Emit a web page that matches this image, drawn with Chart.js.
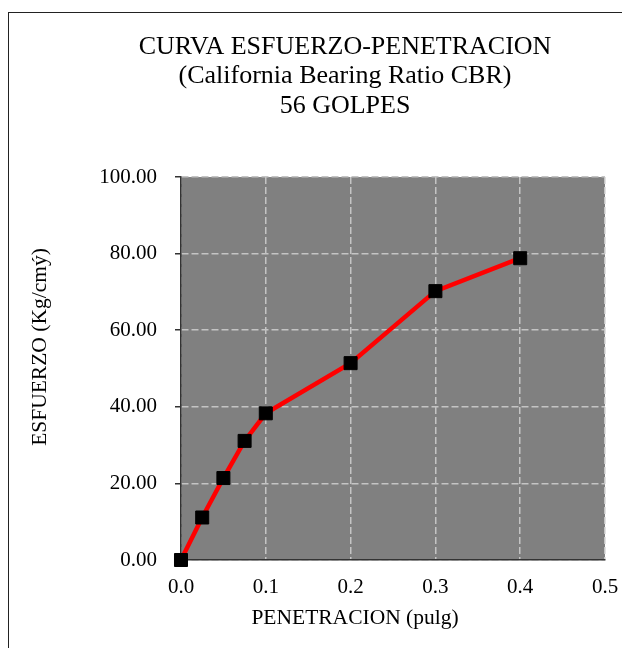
<!DOCTYPE html>
<html>
<head>
<meta charset="utf-8">
<script src="https://cdn.jsdelivr.net/npm/chart.js@4"></script>
<style>
  body { margin: 0; background: #fff; }
  canvas { display: block; }
</style>
</head>
<body>
<canvas id="cbrChart" width="622" height="648"></canvas>
<script>
const titleLines = ['CURVA ESFUERZO-PENETRACION', '(California Bearing Ratio CBR)', '56 GOLPES'];
const xTitle = 'PENETRACION (pulg)';
const yTitle = 'ESFUERZO (Kg/cmý)';

// penetration (pulg) vs esfuerzo (Kg/cm2)
const penetration = [0, 0.025, 0.05, 0.075, 0.1, 0.2, 0.3, 0.4];
const esfuerzo = [0, 11.1, 21.4, 31.1, 38.3, 51.4, 70.2, 78.8];

const serif = "'Liberation Serif', 'Times New Roman', serif";

// grey plot background + outer frame + axis titles
const decor = {
  id: 'decor',
  beforeDraw(chart) {
    const ctx = chart.ctx;
    const a = chart.chartArea;
    ctx.save();
    ctx.strokeStyle = '#222';
    ctx.lineWidth = 1;
    ctx.strokeRect(8.5, 12.5, 700, 700);
    ctx.fillStyle = '#808080';
    ctx.fillRect(a.left, a.top, a.right - a.left, a.bottom - a.top);
    ctx.restore();
  },
  afterDraw(chart) {
    const ctx = chart.ctx;
    ctx.save();
    ctx.fillStyle = '#000';
    ctx.font = '21.5px ' + serif;
    ctx.textAlign = 'center';
    ctx.textBaseline = 'middle';
    ctx.fillText(xTitle, 355, 618);
    ctx.translate(40, 347);
    ctx.rotate(-Math.PI / 2);
    ctx.fillText(yTitle, 0, 0);
    ctx.restore();
  }
};

new Chart(document.getElementById('cbrChart'), {
  type: 'line',
  data: {
    datasets: [{
      data: penetration.map((p, i) => ({ x: p, y: esfuerzo[i] })),
      borderColor: '#ff0000',
      borderWidth: 4.5,
      pointStyle: 'rect',
      pointRadius: 9.2,
      pointBorderWidth: 1,
      pointBackgroundColor: '#000',
      pointBorderColor: '#000',
      tension: 0,
      clip: false
    }]
  },
  options: {
    responsive: false,
    animation: false,
    layout: { padding: { left: 85, right: 17, top: 0, bottom: 0 } },
    plugins: {
      legend: { display: false },
      tooltip: { enabled: false },
      title: {
        display: true,
        text: titleLines,
        color: '#000',
        font: { family: serif, size: 26, weight: 'normal', lineHeight: 1.135 },
        padding: { top: 32, bottom: 56.5 }
      }
    },
    scales: {
      x: {
        type: 'linear',
        min: 0,
        max: 0.5,
        afterFit: (scale) => {
          scale.height = 88;
          scale.paddingLeft = 0;
          scale.paddingRight = 0;
        },
        ticks: {
          stepSize: 0.1,
          padding: 15,
          color: '#000',
          font: { family: serif, size: 21 },
          callback: (v) => v.toFixed(1)
        },
        grid: { color: '#c4c4c4', lineWidth: 1.5, drawTicks: false },
        border: { color: '#333', width: 1.5, dash: [7, 3] }
      },
      y: {
        min: 0,
        max: 100,
        afterFit: (scale) => {
          scale.width = 96;
          scale.paddingTop = 0;
          scale.paddingBottom = 0;
        },
        ticks: {
          stepSize: 20,
          padding: 18,
          color: '#000',
          font: { family: serif, size: 21 },
          callback: (v) => v.toFixed(2)
        },
        grid: { color: '#c4c4c4', lineWidth: 1.5, tickLength: 6, tickColor: '#333', tickWidth: 1.5 },
        border: { color: '#333', width: 1.5, dash: [7, 3] }
      }
    }
  },
  plugins: [decor]
});
</script>
</body>
</html>
